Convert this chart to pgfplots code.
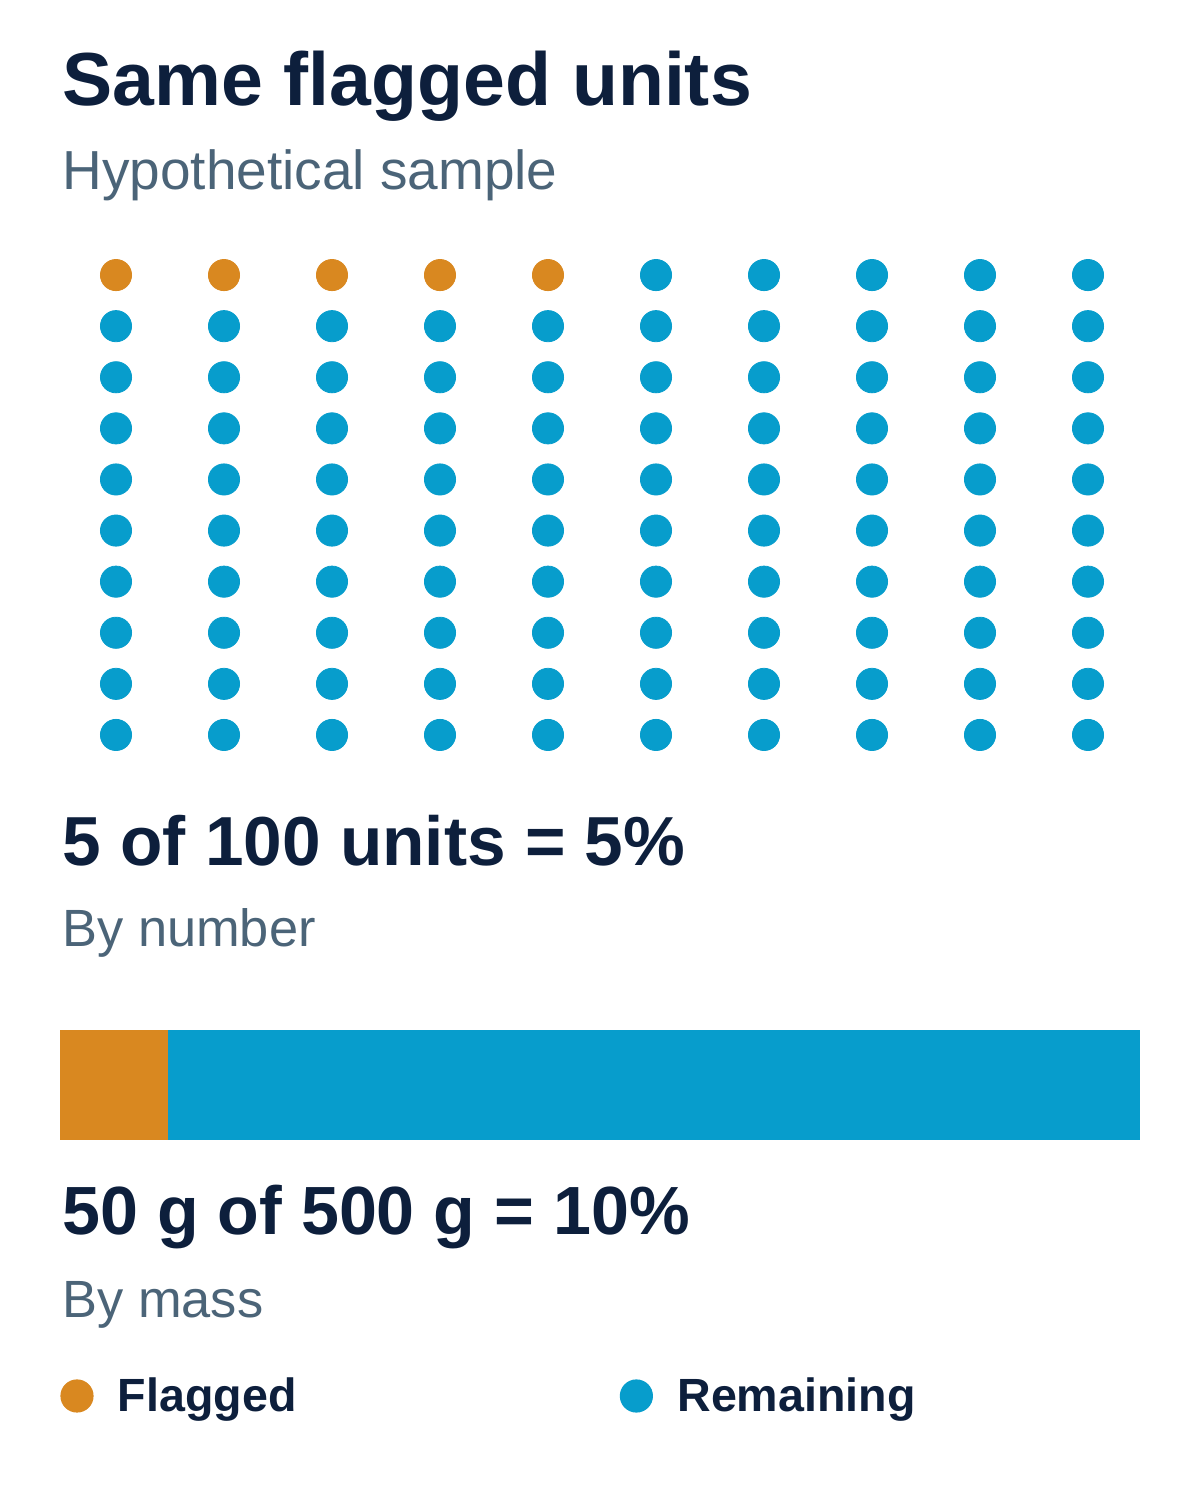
\documentclass[border=0pt]{standalone}
\usepackage{fontspec}
\setmainfont{Liberation Sans}
\usepackage{pgfplots}
\usepackage{pgfplotstable}
\pgfplotsset{compat=1.18}
\definecolor{flag}{HTML}{D98820}
\definecolor{rem}{HTML}{079DCC}
\definecolor{navy}{HTML}{0D1F3C}
\definecolor{slate}{HTML}{4B6478}

% waffle: column, row of each unit (100 units)
\pgfplotstableread{
col row
1 1
2 1
3 1
4 1
5 1
}\flagged
\pgfplotstableread{
col row
6 1
7 1
8 1
9 1
10 1
1 2
2 2
3 2
4 2
5 2
6 2
7 2
8 2
9 2
10 2
1 3
2 3
3 3
4 3
5 3
6 3
7 3
8 3
9 3
10 3
1 4
2 4
3 4
4 4
5 4
6 4
7 4
8 4
9 4
10 4
1 5
2 5
3 5
4 5
5 5
6 5
7 5
8 5
9 5
10 5
1 6
2 6
3 6
4 6
5 6
6 6
7 6
8 6
9 6
10 6
1 7
2 7
3 7
4 7
5 7
6 7
7 7
8 7
9 7
10 7
1 8
2 8
3 8
4 8
5 8
6 8
7 8
8 8
9 8
10 8
1 9
2 9
3 9
4 9
5 9
6 9
7 9
8 9
9 9
10 9
1 10
2 10
3 10
4 10
5 10
6 10
7 10
8 10
9 10
10 10
}\remaining

\begin{document}
\begin{tikzpicture}
\path[use as bounding box] (0pt,0pt) rectangle (600pt,-750pt);

\node[anchor=base west, inner sep=0pt, text=navy, font=\fontsize{37.6}{40}\selectfont\bfseries] at (31pt,-52.5pt) {Same flagged units};
\node[anchor=base west, inner sep=0pt, text=slate, font=\fontsize{27.5}{29}\selectfont] at (31pt,-94.5pt) {Hypothetical sample};

\begin{axis}[at={(31pt,-124.75pt)}, anchor=north west, scale only axis,
  width=540pt, height=255.5pt, xmin=0.5, xmax=10.5, ymin=0.5, ymax=10.5,
  y dir=reverse, hide axis, clip=false]
\addplot[only marks, mark=*, mark size=7.8pt, color=flag] table[x=col, y=row] {\flagged};
\addplot[only marks, mark=*, mark size=7.8pt, color=rem] table[x=col, y=row] {\remaining};
\end{axis}

\node[anchor=base west, inner sep=0pt, text=navy, font=\fontsize{34.7}{37}\selectfont\bfseries] at (31pt,-432.5pt) {5 of 100 units = 5\%};
\node[anchor=base west, inner sep=0pt, text=slate, font=\fontsize{26.2}{28}\selectfont] at (31pt,-473pt) {By number};

\begin{axis}[at={(30pt,-515pt)}, anchor=north west, scale only axis,
  width=540pt, height=55pt, xbar stacked, xmin=0, xmax=500, ymin=-0.5, ymax=0.5,
  bar width=1, hide axis, clip=false,
  legend columns=2,
  legend cell align=left,
  legend style={at={(0,-2.327)}, anchor=west, draw=none, fill=none, inner sep=0pt,
    cells={anchor=west}, nodes={inner sep=0pt, text=navy},
    font=\fontsize{23.3}{25}\selectfont\bfseries},
  legend image code/.code={\fill[#1,draw=none] (8.3pt,0pt) circle (8.3pt);}]
\addplot[fill=flag, draw=none] coordinates {(50,0)};
\addplot[fill=rem, draw=none] coordinates {(450,0)};
\addlegendentry{\hspace*{12.2pt}\makebox[250.9pt][l]{Flagged}}
\addlegendentry{\hspace*{12.2pt}Remaining}
\end{axis}

\node[anchor=base west, inner sep=0pt, text=navy, font=\fontsize{34.1}{36}\selectfont\bfseries] at (31pt,-617pt) {50 g of 500 g = 10\%};
\node[anchor=base west, inner sep=0pt, text=slate, font=\fontsize{26.2}{28}\selectfont] at (31pt,-658.5pt) {By mass};
\end{tikzpicture}
\end{document}
